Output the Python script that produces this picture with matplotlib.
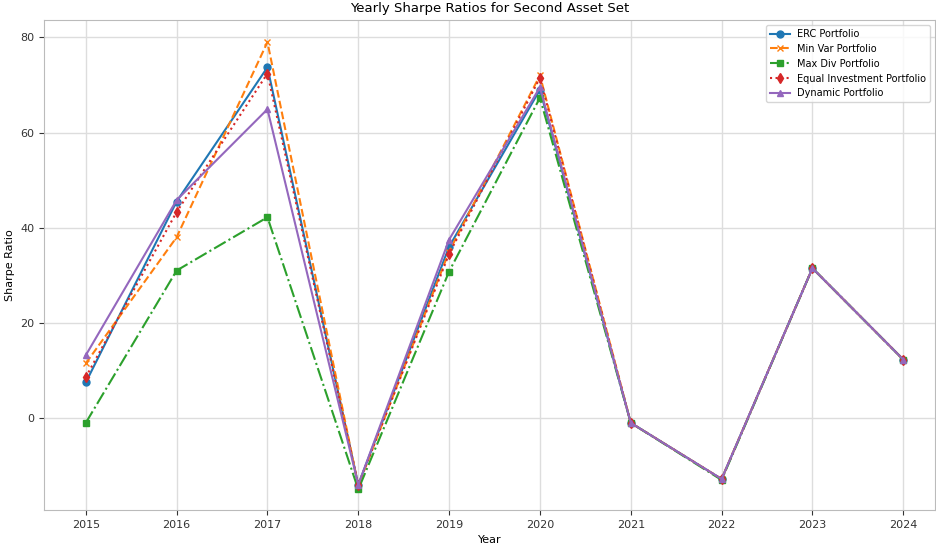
import matplotlib
matplotlib.use("Agg")
import matplotlib.pyplot as plt

years = [2015, 2016, 2017, 2018, 2019, 2020, 2021, 2022, 2023, 2024]

erc = [7.5, 45.5, 73.7, -14.0, 36.0, 69.0, -1.0, -12.8, 31.5, 12.3]
min_var = [11.5, 38.0, 79.0, -14.2, 35.0, 72.0, -1.0, -12.8, 31.5, 12.3]
max_div = [-1.0, 31.0, 42.2, -15.0, 30.8, 67.3, -1.0, -13.0, 31.5, 12.3]
equal_inv = [8.6, 43.3, 72.4, -14.0, 34.5, 71.5, -1.0, -12.8, 31.5, 12.3]
dynamic = [13.2, 45.8, 64.9, -14.0, 37.5, 69.5, -1.0, -12.8, 31.5, 12.3]

fig, ax = plt.subplots(figsize=(9.36, 5.46), dpi=100)
fig.subplots_adjust(left=0.047, right=0.999, top=0.963, bottom=0.066)

# same marker size for every series
ms = 5
ax.plot(years, erc, marker='o', ms=ms, linestyle='-', color='#1f77b4', label='ERC Portfolio')
ax.plot(years, min_var, marker='x', ms=ms, linestyle='--', color='#ff7f0e', label='Min Var Portfolio')
ax.plot(years, max_div, marker='s', ms=ms, linestyle='-.', color='#2ca02c', label='Max Div Portfolio')
ax.plot(years, equal_inv, marker='d', ms=ms, linestyle=':', color='#d62728', label='Equal Investment Portfolio')
ax.plot(years, dynamic, marker='^', ms=ms, linestyle='-', color='#9467bd', label='Dynamic Portfolio')

ax.set_xticks(years)
ax.set_xlim(2014.54, 2024.35)
ax.set_ylim(-19.3, 83.6)
ax.set_yticks([0, 20, 40, 60, 80])
ax.tick_params(labelsize=8, colors='#333333')
ax.grid(True, color='#dddddd', linewidth=1)
for s in ax.spines.values():
    s.set_color('#bbbbbb')

ax.set_title("Yearly Sharpe Ratios for Second Asset Set", fontsize=9.5)
ax.set_xlabel("Year", fontsize=8)
ax.set_ylabel("Sharpe Ratio", fontsize=8)
ax.legend(loc='upper right', fontsize=7)

plt.savefig("out.png")
